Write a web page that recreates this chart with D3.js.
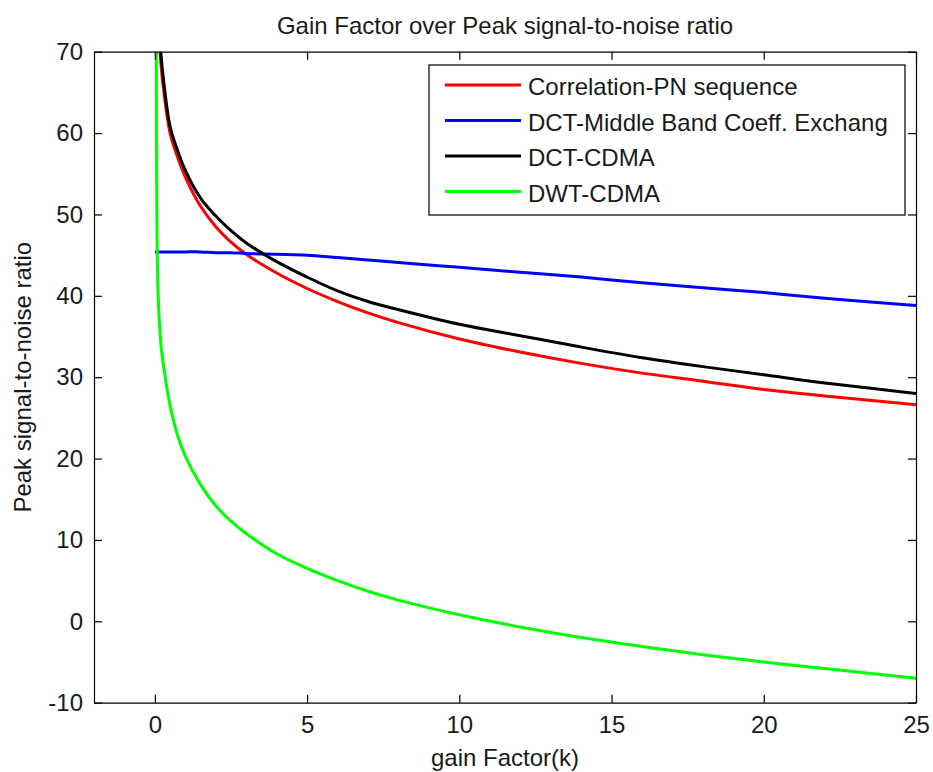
<!DOCTYPE html>
<html>
<head>
<meta charset="utf-8">
<script src="https://cdn.jsdelivr.net/npm/d3@7"></script>
<style>
  html, body { margin: 0; padding: 0; background: #fff; }
  svg { display: block; font-family: "Liberation Sans", Arial, sans-serif; }
</style>
</head>
<body>
<svg id="chart" width="933" height="772"></svg>
<script>
// Gain factor samples (k) shared by all four methods
const gainK = [0, 0.005, 0.02, 0.05, 0.1, 0.2, 0.3, 0.5, 0.75, 1, 1.5, 2, 2.5, 3, 4, 5, 6, 7, 8, 10, 12, 14, 16, 18, 20, 22, 25];

// PSNR (dB) per method; null where the method has no sample
const correlationPN = [null, null, null, null, 74.5, 68.4, 64.9, 60.0, 57.0, 54.6, 51.0, 48.5, 46.6, 45.1, 42.8, 40.9, 39.3, 37.9, 36.7, 34.7, 33.1, 31.7, 30.5, 29.5, 28.5, 27.7, 26.6];
const dctMiddleBand = [45.4, 45.4, 45.4, 45.4, 45.4, 45.4, 45.4, 45.4, 45.4, 45.4, 45.4, 45.3, 45.3, 45.2, 45.1, 45.0, 44.7, 44.4, 44.1, 43.5, 42.9, 42.3, 41.6, 41.0, 40.4, 39.7, 38.8];
const dctCDMA = [null, null, null, null, 75.5, 69.6, 66.0, 60.8, 57.8, 55.4, 52.0, 49.8, 48.0, 46.5, 44.2, 42.3, 40.6, 39.3, 38.3, 36.5, 35.1, 33.7, 32.4, 31.3, 30.3, 29.3, 28.0];
const dwtCDMA = [null, null, null, 75.0, 41.0, 34.0, 31.0, 26.5, 22.8, 20.3, 16.8, 14.2, 12.3, 10.8, 8.3, 6.5, 5.0, 3.7, 2.6, 0.8, -0.7, -2.0, -3.1, -4.1, -5.0, -5.8, -7.0];

const seriesNames = ["Correlation-PN sequence", "DCT-Middle Band Coeff. Exchang", "DCT-CDMA", "DWT-CDMA"];
const seriesColors = ["#ff0000", "#0000ff", "#000000", "#00ff00"];
const seriesValues = [correlationPN, dctMiddleBand, dctCDMA, dwtCDMA];

const xTicks = [0, 5, 10, 15, 20, 25];
const yTicks = [-10, 0, 10, 20, 30, 40, 50, 60, 70];

const titleText = "Gain Factor over Peak signal-to-noise ratio";
const xLabelText = "gain Factor(k)";
const yLabelText = "Peak signal-to-noise ratio";

// Layout
const margin = { left: 94, right: 17, top: 51.7, bottom: 69.3 };
const W = 933, H = 772;
const innerW = W - margin.left - margin.right;
const innerH = H - margin.top - margin.bottom;
const fontSize = 24;
const textColor = "#1a1a1a";

const svg = d3.select("#chart");
const g = svg.append("g").attr("transform", `translate(${margin.left},${margin.top})`);

const x = d3.scaleLinear().domain([-2, 25]).range([0, innerW]);
const y = d3.scaleLinear().domain([-10, 70]).range([innerH, 0]);

g.append("clipPath").attr("id", "plotClip")
  .append("rect").attr("width", innerW).attr("height", innerH);

// Curves
const line = d3.line()
  .defined(d => d.v !== null)
  .x(d => x(d.k))
  .y(d => y(d.v))
  .curve(d3.curveCatmullRom.alpha(0.5));

const curves = g.append("g").attr("clip-path", "url(#plotClip)");
seriesValues.forEach((vals, i) => {
  const pts = gainK.map((k, j) => ({ k, v: vals[j] }));
  curves.append("path")
    .datum(pts)
    .attr("fill", "none")
    .attr("stroke", seriesColors[i])
    .attr("stroke-width", 3)
    .attr("stroke-linejoin", "round")
    .attr("d", line);
});

// Axes: ticks point inward on all four sides
const plainNumber = d => String(d);

function styleAxis(sel) {
  sel.select(".domain").attr("stroke", "#000").attr("stroke-width", 1.2);
  sel.selectAll(".tick line").attr("stroke", "#000").attr("stroke-width", 1.2);
  sel.selectAll("text").attr("fill", textColor).style("font-size", fontSize + "px")
    .style("font-family", '"Liberation Sans", Arial, sans-serif');
}

g.append("g")
  .attr("transform", `translate(0,${innerH})`)
  .call(d3.axisBottom(x).tickValues(xTicks).tickFormat(plainNumber).tickSizeInner(-8).tickSizeOuter(0).tickPadding(13))
  .call(styleAxis);

g.append("g")
  .call(d3.axisTop(x).tickValues(xTicks).tickFormat("").tickSizeInner(-8).tickSizeOuter(0))
  .call(styleAxis);

g.append("g")
  .call(d3.axisLeft(y).tickValues(yTicks).tickFormat(plainNumber).tickSizeInner(-8).tickSizeOuter(0).tickPadding(11))
  .call(styleAxis);

g.append("g")
  .attr("transform", `translate(${innerW},0)`)
  .call(d3.axisRight(y).tickValues(yTicks).tickFormat("").tickSizeInner(-8).tickSizeOuter(0))
  .call(styleAxis);

// Title and axis labels
svg.append("text")
  .attr("x", margin.left + innerW / 2).attr("y", 34)
  .attr("text-anchor", "middle")
  .attr("fill", textColor).style("font-size", fontSize + "px")
  .text(titleText);

svg.append("text")
  .attr("x", margin.left + innerW / 2).attr("y", 766)
  .attr("text-anchor", "middle")
  .attr("fill", textColor).style("font-size", fontSize + "px")
  .text(xLabelText);

svg.append("text")
  .attr("transform", `translate(31,${margin.top + innerH / 2}) rotate(-90)`)
  .attr("text-anchor", "middle")
  .attr("fill", textColor).style("font-size", fontSize + "px")
  .text(yLabelText);

// Legend
const legend = svg.append("g").attr("transform", "translate(429,65)");
legend.append("rect")
  .attr("width", 476).attr("height", 150)
  .attr("fill", "#fff").attr("stroke", "#000").attr("stroke-width", 1.2);

seriesNames.forEach((name, i) => {
  const ly = 20 + i * 35.5;
  legend.append("line")
    .attr("x1", 16).attr("x2", 92).attr("y1", ly).attr("y2", ly)
    .attr("stroke", seriesColors[i]).attr("stroke-width", 3);
  legend.append("text")
    .attr("x", 99).attr("y", ly + 10)
    .attr("fill", textColor).style("font-size", fontSize + "px")
    .text(name);
});
</script>
</body>
</html>
